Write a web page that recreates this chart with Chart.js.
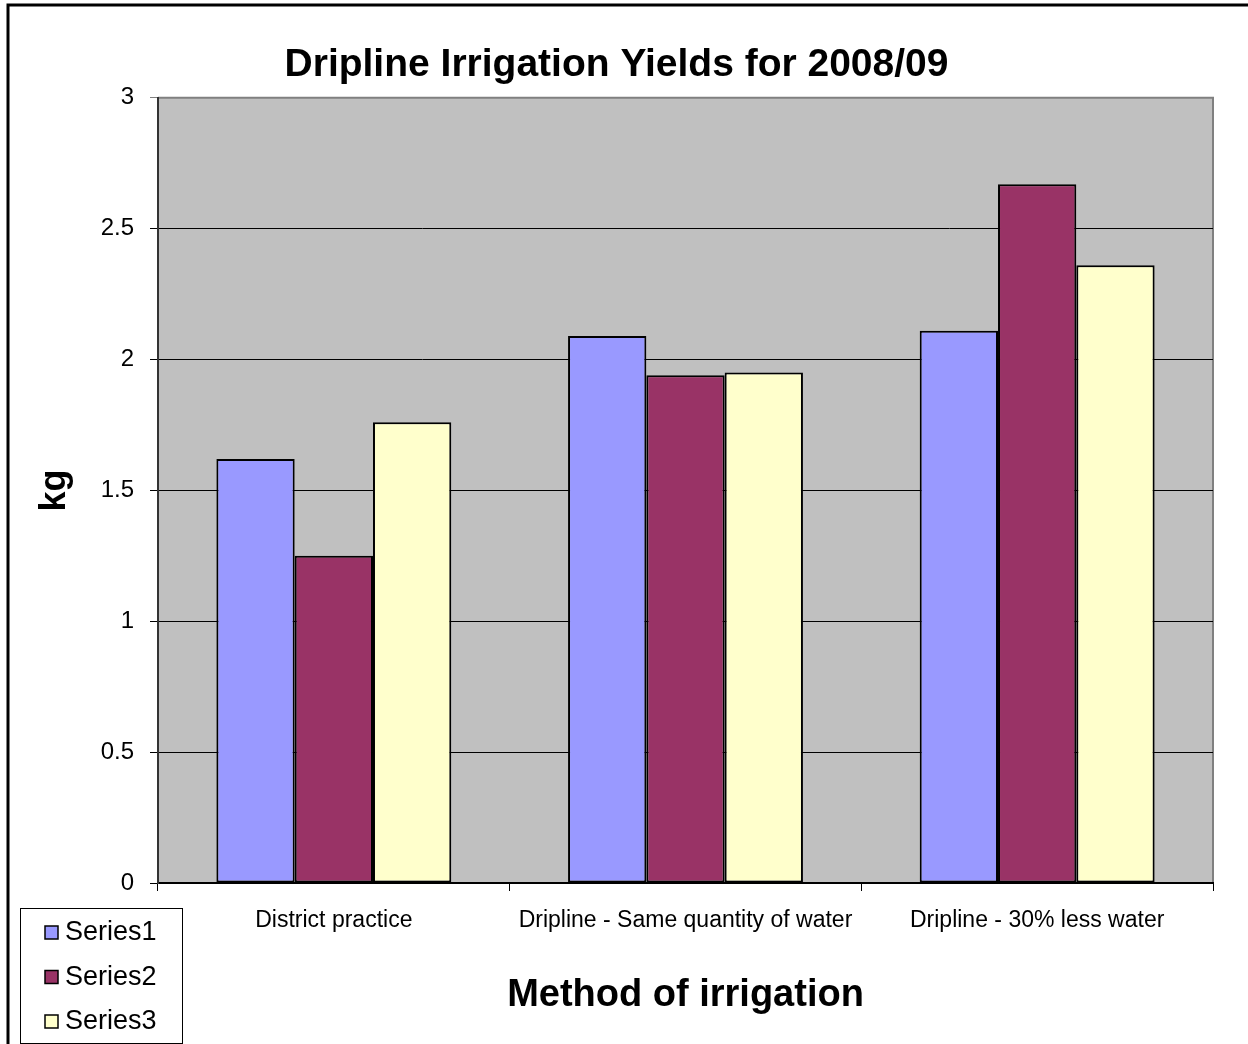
<!DOCTYPE html>
<html>
<head>
<meta charset="utf-8">
<title>Dripline Irrigation Yields</title>
<script src="https://cdn.jsdelivr.net/npm/chart.js@4"></script>
<style>
  html, body { margin: 0; padding: 0; background: #fff; }
  canvas { display: block; }
</style>
</head>
<body>
<canvas id="yield-chart" width="1248" height="1044"></canvas>
<script>
const categories = [
  "District practice",
  "Dripline - Same quantity of water",
  "Dripline - 30% less water",
];
const series1 = [1.62, 2.09, 2.11];
const series2 = [1.25, 1.94, 2.67];
const series3 = [1.76, 1.95, 2.36];
const seriesNames = ["Series1", "Series2", "Series3"];
const seriesColors = ["#9999FF", "#993366", "#FFFFCC"];

const FONT = "'Liberation Sans', Arial, sans-serif";

// grey plot area + gray frame on top/right
const plotBackground = {
  id: "plotBackground",
  beforeDraw(chart) {
    const { ctx, chartArea: a } = chart;
    ctx.save();
    ctx.fillStyle = "#C0C0C0";
    ctx.fillRect(a.left, a.top, a.right - a.left, a.bottom - a.top);
    ctx.strokeStyle = "#808080";
    ctx.lineWidth = 2;
    ctx.beginPath();
    ctx.moveTo(a.left, a.top);
    ctx.lineTo(a.right, a.top);
    ctx.lineTo(a.right, a.bottom);
    ctx.stroke();
    ctx.restore();
  },
};

// outer frame and the boxed legend at the bottom left
const frameAndLegend = {
  id: "frameAndLegend",
  afterDraw(chart) {
    const { ctx } = chart;
    ctx.save();
    ctx.strokeStyle = "#000";
    ctx.lineWidth = 3;
    ctx.beginPath();
    ctx.moveTo(8, 1044);
    ctx.lineTo(8, 5);
    ctx.lineTo(1248, 5);
    ctx.stroke();

    ctx.fillStyle = "#fff";
    ctx.fillRect(20, 908, 162, 135);
    ctx.strokeStyle = "#000";
    ctx.lineWidth = 1;
    ctx.strokeRect(20.5, 908.5, 162, 135);

    ctx.font = "27px " + FONT;
    ctx.textBaseline = "middle";
    chart.data.datasets.forEach((ds, i) => {
      const y = 932 + i * 44.5;
      ctx.fillStyle = ds.backgroundColor;
      ctx.fillRect(45, y - 6, 13, 13);
      ctx.strokeStyle = "#000";
      ctx.lineWidth = 1.5;
      ctx.strokeRect(45, y - 6, 13, 13);
      ctx.fillStyle = "#000";
      ctx.fillText(ds.label, 65, y + 1);
    });
    ctx.restore();
  },
};

const ctx = document.getElementById("yield-chart");
const chart = new Chart(ctx, {
  type: "bar",
  data: {
    labels: categories,
    datasets: [series1, series2, series3].map((values, i) => ({
      label: seriesNames[i],
      data: values,
      backgroundColor: seriesColors[i],
      borderColor: "#000",
      borderWidth: 2,
      borderSkipped: false,
      barPercentage: 1,
      categoryPercentage: 0.668,
    })),
  },
  options: {
    responsive: false,
    animation: false,
    layout: {
      padding: { left: 20, right: 35, top: 0, bottom: 0 },
    },
    plugins: {
      legend: { display: false },
      tooltip: { enabled: false },
      title: {
        display: true,
        text: "Dripline Irrigation Yields for 2008/09",
        color: "#000",
        font: { family: FONT, size: 39, weight: "bold" },
        padding: { top: 42, bottom: 9 },
      },
    },
    scales: {
      x: {
        grid: {
          offset: true,
          drawOnChartArea: false,
          color: "#000",
          tickLength: 8,
        },
        border: { color: "#000", width: 2 },
        ticks: {
          color: "#000",
          font: { family: FONT, size: 23 },
          padding: 16,
          maxRotation: 0,
        },
        title: {
          display: true,
          text: "Method of irrigation",
          color: "#000",
          font: { family: FONT, size: 38, weight: "bold" },
          padding: { top: 0, bottom: 26 },
        },
        afterFit(scale) {
          scale.height = 161;
        },
      },
      y: {
        min: 0,
        max: 3,
        ticks: {
          stepSize: 0.5,
          color: "#000",
          font: { family: FONT, size: 24 },
          padding: 16,
          callback: (value) => String(value),
        },
        grid: {
          color: (c) => (c.tick && c.tick.value === 3 ? "#808080" : "#000"),
          lineWidth: 1,
          tickLength: 8,
        },
        border: { color: "#333", width: 2 },
        title: {
          display: true,
          text: "kg",
          color: "#000",
          font: { family: FONT, size: 36, weight: "bold" },
          padding: { top: 13, bottom: 0 },
        },
        afterFit(scale) {
          scale.width = 138;
        },
      },
    },
  },
  plugins: [plotBackground, frameAndLegend],
});
</script>
</body>
</html>
